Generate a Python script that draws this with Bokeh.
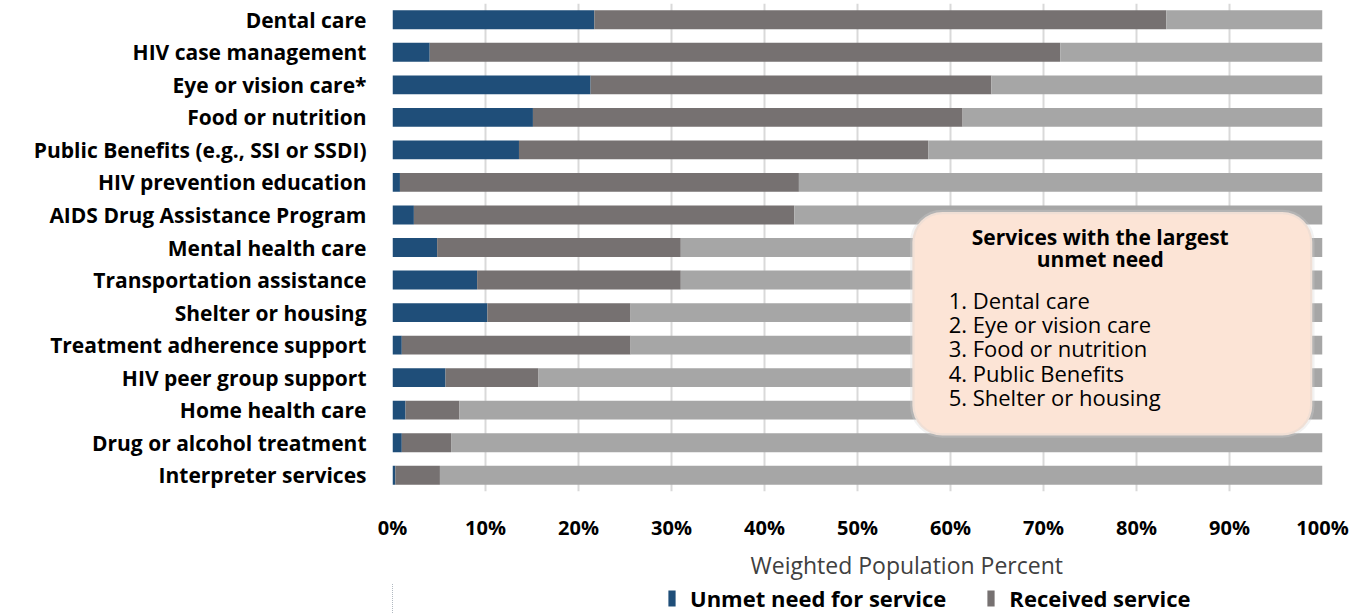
from bokeh.plotting import figure
from bokeh.layouts import column
from bokeh.models import (FactorRange, Range1d, ColumnDataSource, BoxAnnotation, Label, Title,
                          Legend, LegendItem, PrintfTickFormatter, FixedTicker)
from bokeh.embed import file_html
from bokeh.resources import INLINE

services = [
    "Dental care",
    "HIV case management",
    "Eye or vision care*",
    "Food or nutrition",
    "Public Benefits (e.g., SSI or SSDI)",
    "HIV prevention education",
    "AIDS Drug Assistance Program",
    "Mental health care",
    "Transportation assistance",
    "Shelter or housing",
    "Treatment adherence support",
    "HIV peer group support",
    "Home health care",
    "Drug or alcohol treatment",
    "Interpreter services",
]
unmet =    [21.7, 4.0, 21.3, 15.1, 13.6, 0.8, 2.3, 4.8, 9.1, 10.2, 1.0, 5.7, 1.4, 1.0, 0.3]
received = [61.5, 67.8, 43.1, 46.2, 44.0, 42.9, 40.9, 26.2, 21.9, 15.4, 24.6, 10.0, 5.8, 5.3, 4.8]
no_need =  [16.8, 28.2, 35.6, 38.7, 42.4, 56.3, 56.8, 69.0, 69.0, 74.4, 74.4, 84.3, 92.8, 93.7, 94.9]
x_ticks = [0, 10, 20, 30, 40, 50, 60, 70, 80, 90, 100]

legend_labels = ["Unmet need for service", "Received service"]
box_title = ["Services with the largest", "unmet need"]
box_items = ["1. Dental care", "2. Eye or vision care", "3. Food or nutrition",
             "4. Public Benefits", "5. Shelter or housing"]

C_UNMET = "#1f4e79"
C_RECV = "#767171"
C_REST = "#a6a6a6"
FONT = "Open Sans"
W = 1364

source = ColumnDataSource(dict(service=services, unmet=unmet, received=received, no_need=no_need))

p = figure(y_range=FactorRange(*services[::-1]), x_range=Range1d(0, 100),
           width=W, height=583, output_backend="svg", toolbar_location=None,
           min_border_left=392, min_border_right=42, min_border_top=3, min_border_bottom=88)

rs = p.hbar_stack(["unmet", "received", "no_need"], y="service", height=0.58,
                  color=[C_UNMET, C_RECV, C_REST], line_color=None, source=source)

p.outline_line_color = None
p.ygrid.grid_line_color = None
p.xgrid.grid_line_color = "#d9d9d9"
p.xgrid.grid_line_width = 2
p.xgrid.ticker = FixedTicker(ticks=x_ticks)

p.xaxis.ticker = FixedTicker(ticks=x_ticks)
p.xaxis.formatter = PrintfTickFormatter(format="%d%%")
p.xaxis.axis_line_color = None
p.xaxis.major_tick_line_color = None
p.xaxis.minor_tick_line_color = None
p.xaxis.major_label_standoff = 16
p.xaxis.major_label_text_font = FONT
p.xaxis.major_label_text_font_style = "bold"
p.xaxis.major_label_text_font_size = "20px"
p.xaxis.major_label_text_color = "#000000"

p.add_layout(Title(text="Weighted Population Percent", align="left", offset=358,
                   standoff=6, text_font=FONT, text_font_style="normal",
                   text_font_size="23px", text_color="#404040"), "below")

p.yaxis.axis_line_color = None
p.yaxis.major_tick_line_color = None
p.yaxis.minor_tick_line_color = None
p.yaxis.major_label_standoff = 20
p.yaxis.major_label_text_font = FONT
p.yaxis.major_label_text_font_style = "bold"
p.yaxis.major_label_text_font_size = "21px"
p.yaxis.major_label_text_color = "#000000"

box = BoxAnnotation(left=55.9, right=98.9, top=8.59, bottom=1.72,
                    fill_color="#fce4d6", fill_alpha=1.0,
                    line_color="#d4d4d4", line_width=4.5, border_radius=30)
p.add_layout(box)

title_y = [7.82, 7.15]
for t, yy in zip(box_title, title_y):
    p.add_layout(Label(x=76.1, y=yy, text=t, text_align="center", text_baseline="middle",
                       text_font=FONT, text_font_style="bold", text_font_size="21px",
                       text_color="#000000"))
for i, t in enumerate(box_items):
    p.add_layout(Label(x=59.8, y=5.89 - i * 0.745, text=t, text_align="left",
                       text_baseline="middle", text_font=FONT, text_font_size="22px",
                       text_color="#000000"))

# legend strip below the chart (its frame lines up with the chart's frame);
# its x range lies beyond the data, so only the legend itself shows
lp = figure(width=W, height=30, output_backend="svg", toolbar_location=None,
            y_range=FactorRange(*services[::-1]), x_range=Range1d(200, 300),
            x_axis_type=None, y_axis_type=None, min_border=0)
lp.outline_line_color = None
lp.grid.visible = False
lrs = lp.hbar_stack(["unmet", "received"], y="service", height=0.58,
                    color=[C_UNMET, C_RECV], line_color=None, source=source)
legend = Legend(items=[LegendItem(label=legend_labels[0], renderers=[lrs[0]]),
                       LegendItem(label=legend_labels[1], renderers=[lrs[1]])],
                orientation="horizontal", location=(275, 0), padding=0, margin=0,
                spacing=40, label_standoff=14, glyph_width=9, glyph_height=20,
                label_height=16, border_line_color=None, background_fill_alpha=0,
                label_text_font=FONT, label_text_font_style="bold",
                label_text_font_size="22px", label_text_color="#000000")
lp.add_layout(legend)

layout = column(p, lp, spacing=0)
open("out.html", "w").write(file_html(layout, INLINE))
